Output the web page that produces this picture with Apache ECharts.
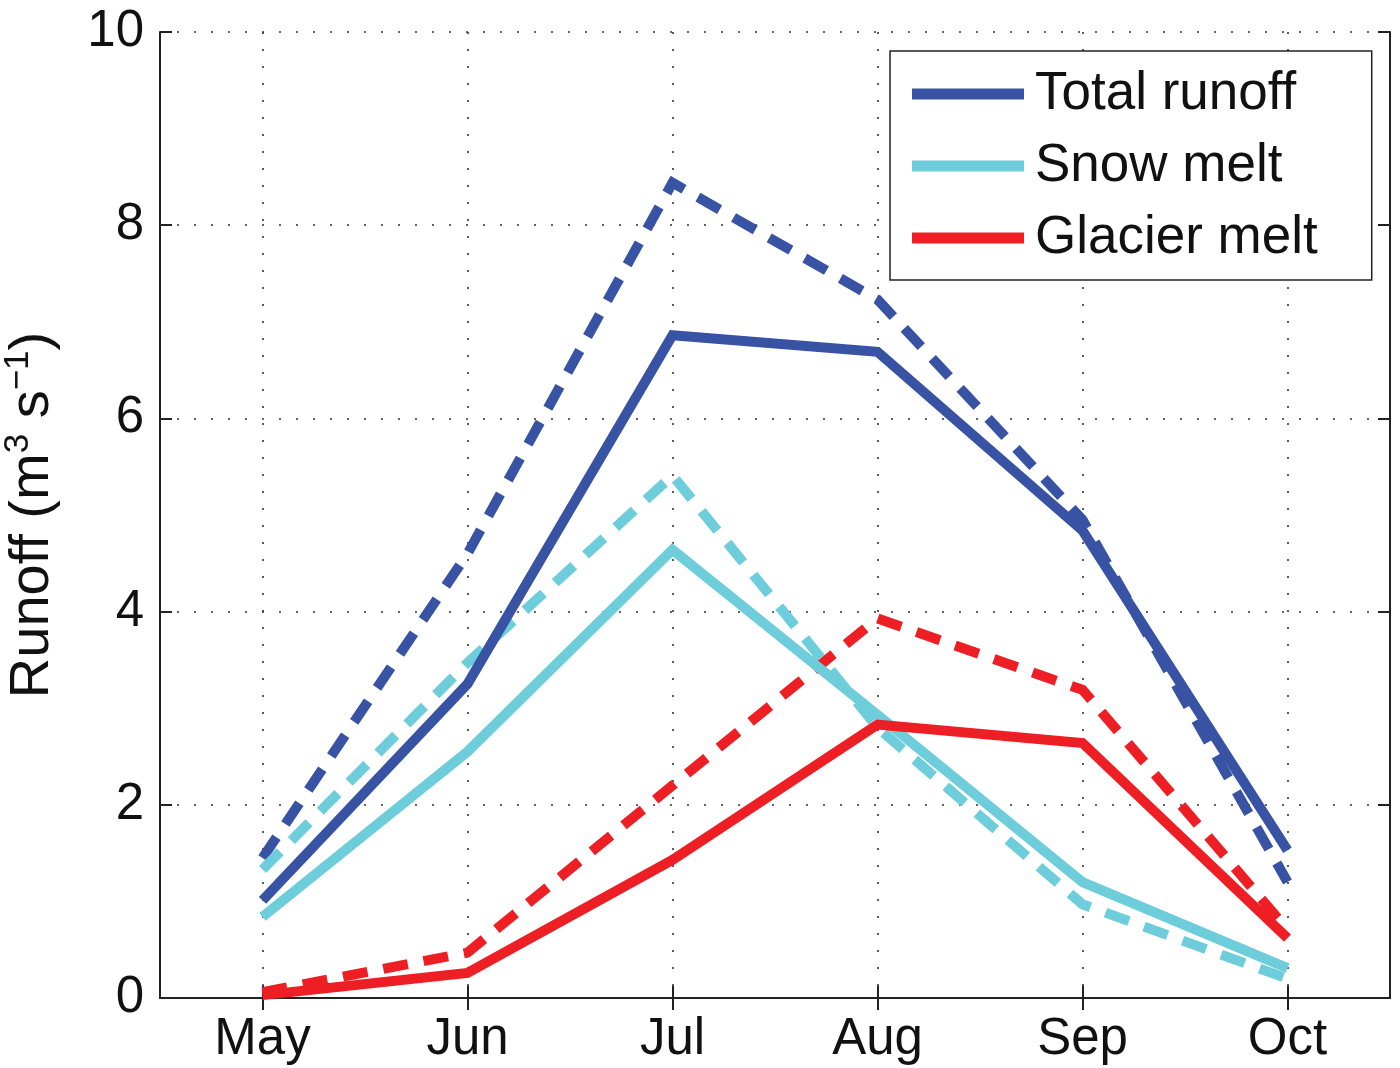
<!DOCTYPE html>
<html>
<head>
<meta charset="utf-8">
<script src="https://cdn.jsdelivr.net/npm/echarts@6/dist/echarts.min.js"></script>
<style>
html,body{margin:0;padding:0;background:#fff;}
#chart{width:1400px;height:1068px;}
</style>
</head>
<body>
<div id="chart"></div>
<script>
const months = ['May', 'Jun', 'Jul', 'Aug', 'Sep', 'Oct'];
const totalRunoff = [1.01, 3.25, 6.86, 6.69, 4.84, 1.53];
const totalRunoffDashed = [1.45, 4.6, 8.44, 7.23, 4.95, 1.2];
const snowMelt = [0.84, 2.55, 4.64, 2.93, 1.2, 0.31];
const snowMeltDashed = [1.33, 3.47, 5.41, 2.8, 0.97, 0.2];
const glacierMelt = [0.03, 0.26, 1.43, 2.83, 2.64, 0.62];
const glacierMeltDashed = [0.06, 0.47, 2.2, 3.93, 3.19, 0.71];
const yTicks = [0, 2, 4, 6, 8, 10];

const BLUE = '#3953a4', CYAN = '#6dcddb', RED = '#ed1f24';
const FONT = "'Liberation Sans', Arial, Helvetica, sans-serif";
const DASH = [25, 16];

function line(name, data, color, dashed) {
  return {
    name: name, type: 'line', data: data, symbol: 'none',
    xAxisIndex: 0, yAxisIndex: 0,
    color: color,
    itemStyle: {color: color},
    lineStyle: {color: color, width: 10, type: dashed ? DASH : 'solid', cap: 'butt', join: 'miter'},
    emphasis: {disabled: true},
    silent: true, animation: false
  };
}

const chart = echarts.init(document.getElementById('chart'), null, {renderer: 'canvas'});
const axisLine = {show: true, lineStyle: {color: '#222', width: 2}};
const tick = {show: true, inside: true, length: 12, alignWithLabel: true, lineStyle: {color: '#222', width: 2}};
const dotted = {color: '#333', width: 1.6, type: [2, 15]};

chart.setOption({
  backgroundColor: '#fff',
  animation: false,
  textStyle: {fontFamily: FONT},
  grid: {left: 160, right: 10, top: 32, bottom: 70, containLabel: false, outerBoundsMode: 'none'},
  legend: {
    data: ['Total runoff', 'Snow melt', 'Glacier melt'],
    orient: 'vertical',
    left: 890, top: 51,
    icon: 'rect',
    itemWidth: 112, itemHeight: 11,
    itemGap: 14,
    padding: [14, 54, 13, 22],
    borderColor: '#222', borderWidth: 1.5,
    backgroundColor: '#fff',
    selectedMode: false,
    textStyle: {fontSize: 53, fontFamily: FONT, color: '#111', lineHeight: 58, padding: [0, 0, 0, 6]}
  },
  xAxis: [
    {
      type: 'category', data: months, boundaryGap: true, position: 'bottom',
      axisLine: axisLine, axisTick: tick,
      axisLabel: {fontSize: 51, color: '#111', margin: 16, fontFamily: FONT},
      splitLine: {show: true, alignWithLabel: true, lineStyle: dotted}
    },
    {
      type: 'category', data: months, boundaryGap: true, position: 'top',
      axisLine: axisLine, axisTick: tick,
      axisLabel: {show: false}, splitLine: {show: false}
    }
  ],
  yAxis: [
    {
      type: 'value', min: yTicks[0], max: yTicks[yTicks.length - 1], interval: 2, position: 'left',
      axisLine: axisLine, axisTick: {show: true, inside: true, length: 12, lineStyle: {color: '#222', width: 2}},
      axisLabel: {fontSize: 51, color: '#111', margin: 16, fontFamily: FONT},
      splitLine: {show: true, lineStyle: dotted},
      name: '{a|Runoff (m}{s|3}{a| s}{s|−1}{a|)}',
      nameLocation: 'middle', nameRotate: 90, nameGap: 95,
      nameTextStyle: {
        rich: {
          a: {fontSize: 56, color: '#111', fontFamily: FONT, lineHeight: 64},
          s: {fontSize: 35, color: '#111', fontFamily: FONT, lineHeight: 37, verticalAlign: 'top'}
        }
      }
    },
    {
      type: 'value', min: yTicks[0], max: yTicks[yTicks.length - 1], interval: 2, position: 'right',
      axisLine: axisLine, axisTick: {show: true, inside: true, length: 12, lineStyle: {color: '#222', width: 2}},
      axisLabel: {show: false}, splitLine: {show: false}
    }
  ],
  series: [
    line('Total runoff (dashed)', totalRunoffDashed, BLUE, true),
    line('Snow melt (dashed)', snowMeltDashed, CYAN, true),
    line('Glacier melt (dashed)', glacierMeltDashed, RED, true),
    line('Total runoff', totalRunoff, BLUE, false),
    line('Snow melt', snowMelt, CYAN, false),
    line('Glacier melt', glacierMelt, RED, false)
  ]
});
</script>
</body>
</html>
